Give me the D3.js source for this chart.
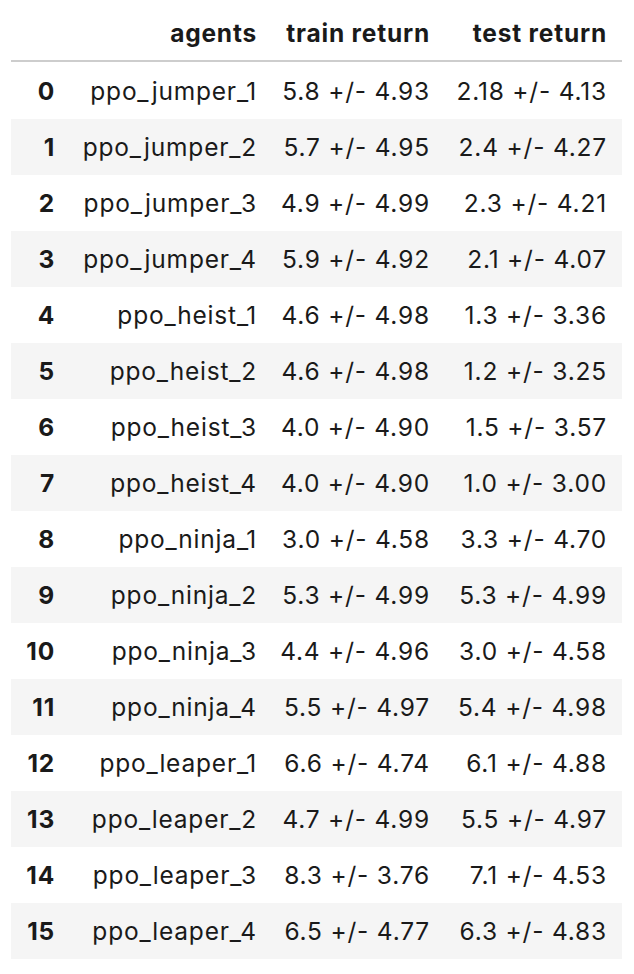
<!DOCTYPE html>
<html>
<head>
<meta charset="utf-8">
<script src="https://cdn.jsdelivr.net/npm/d3@7"></script>
<style>
  body { margin: 0; background: #fff; }
  text { font-family: Inter, "Noto Sans", sans-serif; font-size: 24.5px; letter-spacing: 0.8px; fill: #1a1a1a; }
</style>
</head>
<body>
<svg id="tbl" width="634" height="974"></svg>
<script>
var columns = ["agents", "train return", "test return"];
var agents = ["ppo_jumper_1", "ppo_jumper_2", "ppo_jumper_3", "ppo_jumper_4",
  "ppo_heist_1", "ppo_heist_2", "ppo_heist_3", "ppo_heist_4",
  "ppo_ninja_1", "ppo_ninja_2", "ppo_ninja_3", "ppo_ninja_4",
  "ppo_leaper_1", "ppo_leaper_2", "ppo_leaper_3", "ppo_leaper_4"];
var trainReturn = ["5.8 +/- 4.93", "5.7 +/- 4.95", "4.9 +/- 4.99", "5.9 +/- 4.92",
  "4.6 +/- 4.98", "4.6 +/- 4.98", "4.0 +/- 4.90", "4.0 +/- 4.90",
  "3.0 +/- 4.58", "5.3 +/- 4.99", "4.4 +/- 4.96", "5.5 +/- 4.97",
  "6.6 +/- 4.74", "4.7 +/- 4.99", "8.3 +/- 3.76", "6.5 +/- 4.77"];
var testReturn = ["2.18 +/- 4.13", "2.4 +/- 4.27", "2.3 +/- 4.21", "2.1 +/- 4.07",
  "1.3 +/- 3.36", "1.2 +/- 3.25", "1.5 +/- 3.57", "1.0 +/- 3.00",
  "3.3 +/- 4.70", "5.3 +/- 4.99", "3.0 +/- 4.58", "5.4 +/- 4.98",
  "6.1 +/- 4.88", "5.5 +/- 4.97", "7.1 +/- 4.53", "6.3 +/- 4.83"];

var svg = d3.select("#tbl");
var rowIdx = d3.range(agents.length);
var y = d3.scaleBand().domain(rowIdx).range([63, 959]);
// right edges of each column
var colRight = [55, 257, 430, 607];

svg.selectAll("rect.stripe")
  .data(rowIdx.filter(function(i) { return i % 2 == 1; }))
  .enter().append("rect")
  .attr("class", "stripe")
  .attr("x", 11).attr("width", 611)
  .attr("y", function(d) { return y(d); })
  .attr("height", y.bandwidth())
  .style("fill", "#f5f5f5");

svg.append("line")
  .attr("x1", 11).attr("x2", 622).attr("y1", 61).attr("y2", 61)
  .style("stroke", "#bdbdbd").style("stroke-width", 1.5);

svg.selectAll("text.head")
  .data(columns)
  .enter().append("text")
  .attr("class", "head")
  .attr("x", function(d, i) { return colRight[i + 1]; })
  .attr("y", 33).attr("dy", "0.35em")
  .attr("text-anchor", "end")
  .style("font-weight", "bold")
  .text(function(d) { return d; });

var rows = svg.selectAll("g.row")
  .data(rowIdx)
  .enter().append("g")
  .attr("class", "row")
  .attr("transform", function(d) { return "translate(0," + (y(d) + y.bandwidth() / 2) + ")"; });

rows.each(function(i) {
  var cells = [String(i), agents[i], trainReturn[i], testReturn[i]];
  d3.select(this).selectAll("text")
    .data(cells)
    .enter().append("text")
    .attr("x", function(d, k) { return colRight[k]; })
    .attr("dy", "0.35em")
    .attr("text-anchor", "end")
    .style("font-weight", function(d, k) { return k == 0 ? "bold" : "normal"; })
    .text(function(d) { return d; });
});
</script>
</body>
</html>
